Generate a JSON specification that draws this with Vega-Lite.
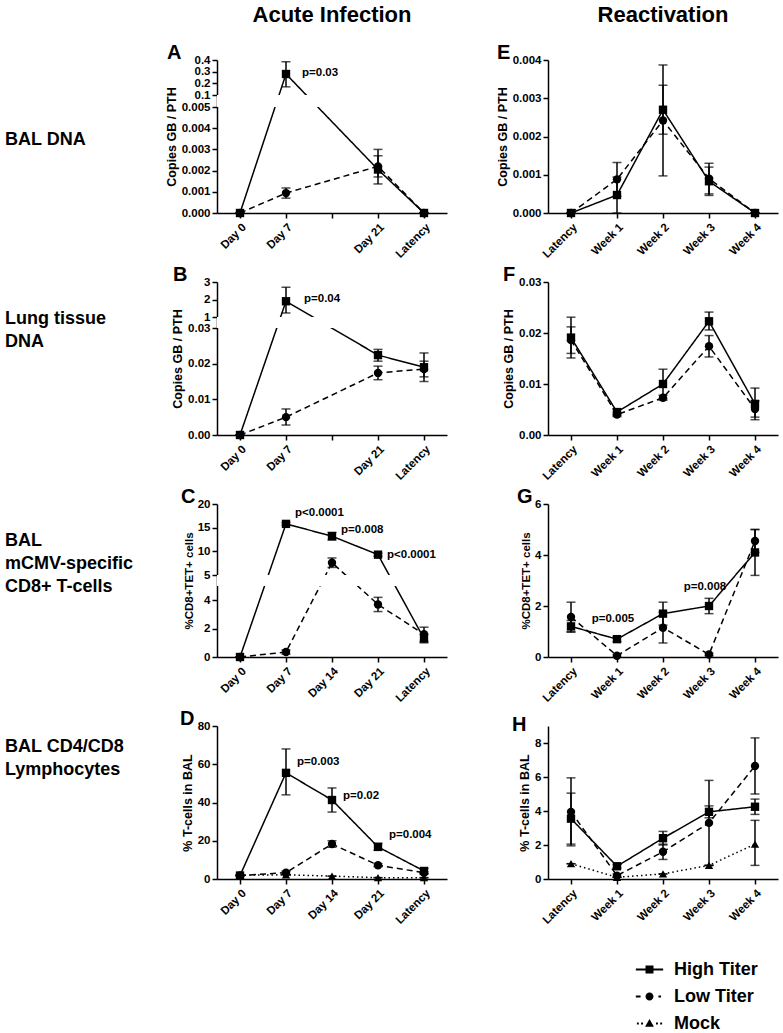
{
"$schema": "https://vega.github.io/schema/vega-lite/v6.json",
"background": "white",
"padding": {"left": 2, "top": 4, "right": 2, "bottom": 0},
"config": {
 "view": {"stroke": null},
 "font": "Liberation Sans",
 "title": {"font": "Liberation Sans", "fontWeight": "bold", "color": "black"},
 "axis": {"labelFont": "Liberation Sans", "labelFontWeight": "bold", "labelFontSize": 11.5, "labelColor": "black", "titleFont": "Liberation Sans", "titleFontWeight": "bold", "titleFontSize": 12.5, "titleColor": "black", "domainColor": "black", "domainWidth": 1.5, "tickColor": "black", "tickWidth": 1.5, "tickSize": 5, "grid": false, "labelPadding": 2, "titlePadding": 3, "labelOverlap": false},
 "axisX": {"labelAngle": -45, "labelPadding": 3}
},
"datasets": {
 "obs": [
  {"panel":"A","group":"High Titer","time":"Day 0","value":0,"lo":0,"hi":0},
  {"panel":"A","group":"High Titer","time":"Day 7","value":0.28,"lo":0.17,"hi":0.385},
  {"panel":"A","group":"High Titer","time":"Day 21","value":0.00205,"lo":0.00137,"hi":0.003},
  {"panel":"A","group":"High Titer","time":"Latency","value":0,"lo":0,"hi":0},
  {"panel":"A","group":"Low Titer","time":"Day 0","value":0,"lo":0,"hi":0},
  {"panel":"A","group":"Low Titer","time":"Day 7","value":0.00094,"lo":0.0007,"hi":0.00118},
  {"panel":"A","group":"Low Titer","time":"Day 21","value":0.0022,"lo":0.0017,"hi":0.0027},
  {"panel":"A","group":"Low Titer","time":"Latency","value":0,"lo":0,"hi":0},
  {"panel":"E","group":"High Titer","time":"Latency","value":0,"lo":0,"hi":0},
  {"panel":"E","group":"High Titer","time":"Week 1","value":0.00047,"lo":0,"hi":0.00094},
  {"panel":"E","group":"High Titer","time":"Week 2","value":0.0027,"lo":0.00206,"hi":0.00334},
  {"panel":"E","group":"High Titer","time":"Week 3","value":0.00083,"lo":0.00046,"hi":0.0012},
  {"panel":"E","group":"High Titer","time":"Week 4","value":0,"lo":0,"hi":0},
  {"panel":"E","group":"Low Titer","time":"Latency","value":0,"lo":0,"hi":0},
  {"panel":"E","group":"Low Titer","time":"Week 1","value":0.00088,"lo":0.00044,"hi":0.00132},
  {"panel":"E","group":"Low Titer","time":"Week 2","value":0.00242,"lo":0.00097,"hi":0.00387},
  {"panel":"E","group":"Low Titer","time":"Week 3","value":0.0009,"lo":0.0005,"hi":0.0013},
  {"panel":"E","group":"Low Titer","time":"Week 4","value":0,"lo":0,"hi":0},
  {"panel":"B","group":"High Titer","time":"Day 0","value":0,"lo":0,"hi":0},
  {"panel":"B","group":"High Titer","time":"Day 7","value":1.9,"lo":1.23,"hi":2.7},
  {"panel":"B","group":"High Titer","time":"Day 21","value":0.0224,"lo":0.0207,"hi":0.024},
  {"panel":"B","group":"High Titer","time":"Latency","value":0.019,"lo":0.015,"hi":0.023},
  {"panel":"B","group":"Low Titer","time":"Day 0","value":0,"lo":0,"hi":0},
  {"panel":"B","group":"Low Titer","time":"Day 7","value":0.005,"lo":0.0028,"hi":0.0073},
  {"panel":"B","group":"Low Titer","time":"Day 21","value":0.0174,"lo":0.0155,"hi":0.0193},
  {"panel":"B","group":"Low Titer","time":"Latency","value":0.0185,"lo":0.0163,"hi":0.0207},
  {"panel":"F","group":"High Titer","time":"Latency","value":0.0191,"lo":0.0151,"hi":0.0231},
  {"panel":"F","group":"High Titer","time":"Week 1","value":0.0045,"lo":0.0039,"hi":0.0051},
  {"panel":"F","group":"High Titer","time":"Week 2","value":0.01,"lo":0.0071,"hi":0.0129},
  {"panel":"F","group":"High Titer","time":"Week 3","value":0.0223,"lo":0.0206,"hi":0.0241},
  {"panel":"F","group":"High Titer","time":"Week 4","value":0.0061,"lo":0.003,"hi":0.0092},
  {"panel":"F","group":"Low Titer","time":"Latency","value":0.0186,"lo":0.016,"hi":0.0212},
  {"panel":"F","group":"Low Titer","time":"Week 1","value":0.004,"lo":0.0036,"hi":0.0044},
  {"panel":"F","group":"Low Titer","time":"Week 2","value":0.0073,"lo":0.0068,"hi":0.0078},
  {"panel":"F","group":"Low Titer","time":"Week 3","value":0.0174,"lo":0.0153,"hi":0.0195},
  {"panel":"F","group":"Low Titer","time":"Week 4","value":0.0051,"lo":0.0035,"hi":0.0067},
  {"panel":"C","group":"High Titer","time":"Day 0","value":0,"lo":0,"hi":0},
  {"panel":"C","group":"High Titer","time":"Day 7","value":15.8,"lo":15.5,"hi":16.1},
  {"panel":"C","group":"High Titer","time":"Day 14","value":13.2,"lo":12.4,"hi":14.0},
  {"panel":"C","group":"High Titer","time":"Day 21","value":9.3,"lo":9.0,"hi":9.6},
  {"panel":"C","group":"High Titer","time":"Latency","value":1.3,"lo":1.0,"hi":1.6},
  {"panel":"C","group":"Low Titer","time":"Day 0","value":0,"lo":0,"hi":0},
  {"panel":"C","group":"Low Titer","time":"Day 7","value":0.35,"lo":0.2,"hi":0.5},
  {"panel":"C","group":"Low Titer","time":"Day 14","value":7.6,"lo":6.6,"hi":8.6},
  {"panel":"C","group":"Low Titer","time":"Day 21","value":3.7,"lo":3.2,"hi":4.2},
  {"panel":"C","group":"Low Titer","time":"Latency","value":1.6,"lo":1.1,"hi":2.1},
  {"panel":"G","group":"High Titer","time":"Latency","value":1.2,"lo":0.97,"hi":1.43},
  {"panel":"G","group":"High Titer","time":"Week 1","value":0.7,"lo":0.6,"hi":0.8},
  {"panel":"G","group":"High Titer","time":"Week 2","value":1.7,"lo":1.25,"hi":2.15},
  {"panel":"G","group":"High Titer","time":"Week 3","value":2.0,"lo":1.7,"hi":2.3},
  {"panel":"G","group":"High Titer","time":"Week 4","value":4.1,"lo":3.2,"hi":5.0},
  {"panel":"G","group":"Low Titer","time":"Latency","value":1.57,"lo":1.0,"hi":2.15},
  {"panel":"G","group":"Low Titer","time":"Week 1","value":0.05,"lo":0,"hi":0.1},
  {"panel":"G","group":"Low Titer","time":"Week 2","value":1.15,"lo":0.55,"hi":1.75},
  {"panel":"G","group":"Low Titer","time":"Week 3","value":0.1,"lo":0.05,"hi":0.15},
  {"panel":"G","group":"Low Titer","time":"Week 4","value":4.55,"lo":4.1,"hi":5.0},
  {"panel":"D","group":"High Titer","time":"Day 0","value":1.8,"lo":1.5,"hi":2.1},
  {"panel":"D","group":"High Titer","time":"Day 7","value":55.5,"lo":44,"hi":68},
  {"panel":"D","group":"High Titer","time":"Day 14","value":41.3,"lo":35,"hi":47.6},
  {"panel":"D","group":"High Titer","time":"Day 21","value":16.8,"lo":15,"hi":18.6},
  {"panel":"D","group":"High Titer","time":"Latency","value":4.2,"lo":2.8,"hi":5.6},
  {"panel":"D","group":"Low Titer","time":"Day 0","value":1.8,"lo":1.6,"hi":2.0},
  {"panel":"D","group":"Low Titer","time":"Day 7","value":3.3,"lo":2.5,"hi":4.1},
  {"panel":"D","group":"Low Titer","time":"Day 14","value":18.3,"lo":16.6,"hi":20},
  {"panel":"D","group":"Low Titer","time":"Day 21","value":7.2,"lo":6.4,"hi":8.0},
  {"panel":"D","group":"Low Titer","time":"Latency","value":3.3,"lo":2.8,"hi":3.8},
  {"panel":"D","group":"Mock","time":"Day 0","value":2.0,"lo":2.0,"hi":2.0},
  {"panel":"D","group":"Mock","time":"Day 7","value":2.2,"lo":2.2,"hi":2.2},
  {"panel":"D","group":"Mock","time":"Day 14","value":1.5,"lo":1.5,"hi":1.5},
  {"panel":"D","group":"Mock","time":"Day 21","value":0.7,"lo":0.7,"hi":0.7},
  {"panel":"D","group":"Mock","time":"Latency","value":0.7,"lo":0.7,"hi":0.7},
  {"panel":"H","group":"High Titer","time":"Latency","value":3.55,"lo":2.05,"hi":5.05},
  {"panel":"H","group":"High Titer","time":"Week 1","value":0.75,"lo":0.65,"hi":0.85},
  {"panel":"H","group":"High Titer","time":"Week 2","value":2.4,"lo":2.0,"hi":2.8},
  {"panel":"H","group":"High Titer","time":"Week 3","value":3.95,"lo":3.6,"hi":4.3},
  {"panel":"H","group":"High Titer","time":"Week 4","value":4.25,"lo":3.8,"hi":4.7},
  {"panel":"H","group":"Low Titer","time":"Latency","value":3.95,"lo":1.95,"hi":5.95},
  {"panel":"H","group":"Low Titer","time":"Week 1","value":0.2,"lo":0.1,"hi":0.3},
  {"panel":"H","group":"Low Titer","time":"Week 2","value":1.6,"lo":1.15,"hi":2.05},
  {"panel":"H","group":"Low Titer","time":"Week 3","value":3.3,"lo":0.8,"hi":5.8},
  {"panel":"H","group":"Low Titer","time":"Week 4","value":6.65,"lo":5.0,"hi":8.3},
  {"panel":"H","group":"Mock","time":"Latency","value":0.9,"lo":0.9,"hi":0.9},
  {"panel":"H","group":"Mock","time":"Week 1","value":0.1,"lo":0.1,"hi":0.1},
  {"panel":"H","group":"Mock","time":"Week 2","value":0.3,"lo":0.3,"hi":0.3},
  {"panel":"H","group":"Mock","time":"Week 3","value":0.8,"lo":0.8,"hi":0.8},
  {"panel":"H","group":"Mock","time":"Week 4","value":2.05,"lo":0.8,"hi":3.45}
 ],
 "notes": [
  {"panel":"A","time":"Day 7","value":0.29,"text":"p=0.03"},
  {"panel":"B","time":"Day 7","value":2.03,"text":"p=0.04"},
  {"panel":"C","time":"Day 7","value":18.1,"text":"p<0.0001"},
  {"panel":"C","time":"Day 14","value":14.5,"text":"p=0.008"},
  {"panel":"C","time":"Day 21","value":9.2,"text":"p<0.0001"},
  {"panel":"D","time":"Day 7","value":61.2,"text":"p=0.003"},
  {"panel":"D","time":"Day 14","value":43.4,"text":"p=0.02"},
  {"panel":"D","time":"Day 21","value":23,"text":"p=0.004"},
  {"panel":"G","time":"Week 1","value":1.49,"text":"p=0.005"},
  {"panel":"G","time":"Week 3","value":2.75,"text":"p=0.008"}
 ],
 "groups": [{"group":"High Titer"},{"group":"Low Titer"},{"group":"Mock"}]
},
"spacing": 31,
"hconcat": [
 {"spacing": 0, "vconcat": [
  {"width": 1, "height": 104, "data": {"values": [{}]}, "mark": {"type": "point", "opacity": 0}},
  {"width": 1, "height": 161, "data": {"values": [{}]}, "mark": {"type": "point", "opacity": 0}, "title": {"text": "BAL DNA", "anchor": "start", "frame": "group", "fontSize": 18, "lineHeight": 23, "offset": 0, "align": "left"}},
  {"width": 1, "height": 181, "data": {"values": [{}]}, "mark": {"type": "point", "opacity": 0}, "title": {"text": ["Lung tissue", "DNA"], "anchor": "start", "frame": "group", "fontSize": 18, "lineHeight": 23, "offset": 0, "align": "left"}},
  {"width": 1, "height": 141, "data": {"values": [{}]}, "mark": {"type": "point", "opacity": 0}, "title": {"text": ["BAL", "mCMV-specific", "CD8+ T-cells"], "anchor": "start", "frame": "group", "fontSize": 18, "lineHeight": 23, "offset": 0, "align": "left"}},
  {"width": 1, "height": 5, "data": {"values": [{}]}, "mark": {"type": "point", "opacity": 0}, "title": {"text": ["BAL CD4/CD8", "Lymphocytes"], "anchor": "start", "frame": "group", "fontSize": 18, "lineHeight": 23, "offset": 0, "align": "left"}}
 ]},
 {"columns": 2, "align": "each", "spacing": {"row": 5, "column": 49},
  "resolve": {"scale": {"shape": "independent", "strokeDash": "independent"}, "legend": {"shape": "independent", "strokeDash": "independent"}},
  "concat": [
  {"width": 230, "height": 11, "data": {"values": [{}]}, "mark": {"type": "point", "opacity": 0}, "title": {"text": "Acute Infection", "anchor": "middle", "frame": "group", "font": "Liberation Sans", "fontSize": 22, "offset": 0}},
  {"width": 230, "height": 11, "data": {"values": [{}]}, "mark": {"type": "point", "opacity": 0}, "title": {"text": "Reactivation", "anchor": "middle", "frame": "group", "font": "Liberation Sans", "fontSize": 22, "offset": 0}},

  {"width": 230, "height": 153,
   "title": {"text": "A", "anchor": "start", "frame": "group", "dx": -50, "fontSize": 20, "offset": -9},
   "data": {"name": "obs"}, "transform": [{"filter": "datum.panel == 'A'"}],
   "layer": [
    {"mark": {"type": "errorbar", "ticks": true, "size": 9, "thickness": 1.5, "color": "black"},
     "encoding": {"x": {"field": "time", "type": "ordinal", "scale": {"type": "point", "domain": ["Day 0","Day 7","Day 14","Day 21","Latency"], "padding": 0.5}, "axis": {"title": null, "labelExpr": "datum.value == 'Day 14' ? '' : datum.value"}},
      "y": {"field": "lo", "type": "quantitative", "title": "Copies GB / PTH", "scale": {"domain": [0,0.005,0.1,0.4], "range": [153,47,35,0], "nice": false, "zero": false}},
      "y2": {"field": "hi"}}},
    {"mark": {"type": "line", "color": "black", "strokeWidth": 1.5},
     "encoding": {"x": {"field": "time", "type": "ordinal", "scale": {"type": "point", "domain": ["Day 0","Day 7","Day 14","Day 21","Latency"], "padding": 0.5}, "axis": {"title": null, "labelExpr": "datum.value == 'Day 14' ? '' : datum.value"}},
      "y": {"field": "value", "type": "quantitative", "title": "Copies GB / PTH", "scale": {"domain": [0,0.005,0.1,0.4], "range": [153,47,35,0], "nice": false, "zero": false}, "axis": {"values": [0,0.001,0.002,0.003,0.004,0.005,0.1,0.2,0.3,0.4], "tickCount": 20, "labelOverlap": false, "labelExpr": "datum.value < 0.05 ? format(datum.value, '.3f') : format(datum.value, '.1f')"}},
      "strokeDash": {"field": "group", "type": "nominal", "scale": {"domain": ["High Titer","Low Titer","Mock"], "range": [[1,0],[6,4],[1.5,3]]}, "legend": null},
      "order": {"value": null}}},
    {"data": {"values": [{"lo": 0.005, "hi": 0.1}]}, "mark": {"type": "rect", "color": "white"},
     "encoding": {"y": {"field": "lo", "type": "quantitative", "title": "Copies GB / PTH", "scale": {"domain": [0,0.005,0.1,0.4], "range": [153,47,35,0], "nice": false, "zero": false}}, "y2": {"field": "hi"}}},
    {"mark": {"type": "point", "filled": true, "size": 70, "color": "black", "opacity": 1},
     "encoding": {"x": {"field": "time", "type": "ordinal", "scale": {"type": "point", "domain": ["Day 0","Day 7","Day 14","Day 21","Latency"], "padding": 0.5}, "axis": {"title": null, "labelExpr": "datum.value == 'Day 14' ? '' : datum.value"}},
      "y": {"field": "value", "type": "quantitative", "title": "Copies GB / PTH", "scale": {"domain": [0,0.005,0.1,0.4], "range": [153,47,35,0], "nice": false, "zero": false}},
      "shape": {"field": "group", "type": "nominal", "scale": {"domain": ["High Titer","Low Titer","Mock"], "range": ["square","circle","triangle-up"]}, "legend": null}}},
    {"data": {"name": "notes"}, "transform": [{"filter": "datum.panel == 'A'"}],
     "mark": {"type": "text", "align": "left", "baseline": "middle", "dx": 16, "fontSize": 11.5, "fontWeight": "bold", "color": "black"},
     "encoding": {"x": {"field": "time", "type": "ordinal", "scale": {"type": "point", "domain": ["Day 0","Day 7","Day 14","Day 21","Latency"], "padding": 0.5}, "axis": {"title": null, "labelExpr": "datum.value == 'Day 14' ? '' : datum.value"}},
      "y": {"field": "value", "type": "quantitative", "title": "Copies GB / PTH", "scale": {"domain": [0,0.005,0.1,0.4], "range": [153,47,35,0], "nice": false, "zero": false}},
      "text": {"field": "text"}}}
   ]},

  {"width": 230, "height": 153,
   "title": {"text": "E", "anchor": "start", "frame": "group", "dx": -51, "fontSize": 20, "offset": -9},
   "data": {"name": "obs"}, "transform": [{"filter": "datum.panel == 'E'"}],
   "layer": [
    {"mark": {"type": "errorbar", "ticks": true, "size": 9, "thickness": 1.5, "color": "black"},
     "encoding": {"x": {"field": "time", "type": "ordinal", "scale": {"type": "point", "domain": ["Latency","Week 1","Week 2","Week 3","Week 4"], "padding": 0.5}, "axis": {"title": null}},
      "y": {"field": "lo", "type": "quantitative", "title": "Copies GB / PTH", "scale": {"domain": [0,0.004], "nice": false}},
      "y2": {"field": "hi"}}},
    {"mark": {"type": "line", "color": "black", "strokeWidth": 1.5},
     "encoding": {"x": {"field": "time", "type": "ordinal", "scale": {"type": "point", "domain": ["Latency","Week 1","Week 2","Week 3","Week 4"], "padding": 0.5}, "axis": {"title": null}},
      "y": {"field": "value", "type": "quantitative", "title": "Copies GB / PTH", "scale": {"domain": [0,0.004], "nice": false}, "axis": {"values": [0,0.001,0.002,0.003,0.004], "tickCount": 20, "format": ".3f"}},
      "strokeDash": {"field": "group", "type": "nominal", "scale": {"domain": ["High Titer","Low Titer","Mock"], "range": [[1,0],[6,4],[1.5,3]]}, "legend": null},
      "order": {"value": null}}},
    {"mark": {"type": "point", "filled": true, "size": 70, "color": "black", "opacity": 1},
     "encoding": {"x": {"field": "time", "type": "ordinal", "scale": {"type": "point", "domain": ["Latency","Week 1","Week 2","Week 3","Week 4"], "padding": 0.5}, "axis": {"title": null}},
      "y": {"field": "value", "type": "quantitative", "title": "Copies GB / PTH", "scale": {"domain": [0,0.004], "nice": false}},
      "shape": {"field": "group", "type": "nominal", "scale": {"domain": ["High Titer","Low Titer","Mock"], "range": ["square","circle","triangle-up"]}, "legend": null}}}
   ]},

  {"width": 230, "height": 153,
   "title": {"text": "B", "anchor": "start", "frame": "group", "dx": -44, "fontSize": 20, "offset": -9},
   "data": {"name": "obs"}, "transform": [{"filter": "datum.panel == 'B'"}],
   "layer": [
    {"mark": {"type": "errorbar", "ticks": true, "size": 9, "thickness": 1.5, "color": "black"},
     "encoding": {"x": {"field": "time", "type": "ordinal", "scale": {"type": "point", "domain": ["Day 0","Day 7","Day 14","Day 21","Latency"], "padding": 0.5}, "axis": {"title": null, "labelExpr": "datum.value == 'Day 14' ? '' : datum.value"}},
      "y": {"field": "lo", "type": "quantitative", "title": "Copies GB / PTH", "scale": {"domain": [0,0.03,1,3], "range": [153,46,35,0], "nice": false, "zero": false}},
      "y2": {"field": "hi"}}},
    {"mark": {"type": "line", "color": "black", "strokeWidth": 1.5},
     "encoding": {"x": {"field": "time", "type": "ordinal", "scale": {"type": "point", "domain": ["Day 0","Day 7","Day 14","Day 21","Latency"], "padding": 0.5}, "axis": {"title": null, "labelExpr": "datum.value == 'Day 14' ? '' : datum.value"}},
      "y": {"field": "value", "type": "quantitative", "title": "Copies GB / PTH", "scale": {"domain": [0,0.03,1,3], "range": [153,46,35,0], "nice": false, "zero": false}, "axis": {"values": [0,0.01,0.02,0.03,1,2,3], "tickCount": 20, "labelOverlap": false, "labelExpr": "datum.value < 0.5 ? format(datum.value, '.2f') : format(datum.value, 'd')"}},
      "strokeDash": {"field": "group", "type": "nominal", "scale": {"domain": ["High Titer","Low Titer","Mock"], "range": [[1,0],[6,4],[1.5,3]]}, "legend": null},
      "order": {"value": null}}},
    {"data": {"values": [{"lo": 0.03, "hi": 1}]}, "mark": {"type": "rect", "color": "white"},
     "encoding": {"y": {"field": "lo", "type": "quantitative", "title": "Copies GB / PTH", "scale": {"domain": [0,0.03,1,3], "range": [153,46,35,0], "nice": false, "zero": false}}, "y2": {"field": "hi"}}},
    {"mark": {"type": "point", "filled": true, "size": 70, "color": "black", "opacity": 1},
     "encoding": {"x": {"field": "time", "type": "ordinal", "scale": {"type": "point", "domain": ["Day 0","Day 7","Day 14","Day 21","Latency"], "padding": 0.5}, "axis": {"title": null, "labelExpr": "datum.value == 'Day 14' ? '' : datum.value"}},
      "y": {"field": "value", "type": "quantitative", "title": "Copies GB / PTH", "scale": {"domain": [0,0.03,1,3], "range": [153,46,35,0], "nice": false, "zero": false}},
      "shape": {"field": "group", "type": "nominal", "scale": {"domain": ["High Titer","Low Titer","Mock"], "range": ["square","circle","triangle-up"]}, "legend": null}}},
    {"data": {"name": "notes"}, "transform": [{"filter": "datum.panel == 'B'"}],
     "mark": {"type": "text", "align": "left", "baseline": "middle", "dx": 18, "fontSize": 11.5, "fontWeight": "bold", "color": "black"},
     "encoding": {"x": {"field": "time", "type": "ordinal", "scale": {"type": "point", "domain": ["Day 0","Day 7","Day 14","Day 21","Latency"], "padding": 0.5}, "axis": {"title": null, "labelExpr": "datum.value == 'Day 14' ? '' : datum.value"}},
      "y": {"field": "value", "type": "quantitative", "title": "Copies GB / PTH", "scale": {"domain": [0,0.03,1,3], "range": [153,46,35,0], "nice": false, "zero": false}},
      "text": {"field": "text"}}}
   ]},

  {"width": 230, "height": 153,
   "title": {"text": "F", "anchor": "start", "frame": "group", "dx": -45, "fontSize": 20, "offset": -9},
   "data": {"name": "obs"}, "transform": [{"filter": "datum.panel == 'F'"}],
   "layer": [
    {"mark": {"type": "errorbar", "ticks": true, "size": 9, "thickness": 1.5, "color": "black"},
     "encoding": {"x": {"field": "time", "type": "ordinal", "scale": {"type": "point", "domain": ["Latency","Week 1","Week 2","Week 3","Week 4"], "padding": 0.5}, "axis": {"title": null}},
      "y": {"field": "lo", "type": "quantitative", "title": "Copies GB / PTH", "scale": {"domain": [0,0.03], "nice": false}},
      "y2": {"field": "hi"}}},
    {"mark": {"type": "line", "color": "black", "strokeWidth": 1.5},
     "encoding": {"x": {"field": "time", "type": "ordinal", "scale": {"type": "point", "domain": ["Latency","Week 1","Week 2","Week 3","Week 4"], "padding": 0.5}, "axis": {"title": null}},
      "y": {"field": "value", "type": "quantitative", "title": "Copies GB / PTH", "scale": {"domain": [0,0.03], "nice": false}, "axis": {"values": [0,0.01,0.02,0.03], "tickCount": 20, "format": ".2f"}},
      "strokeDash": {"field": "group", "type": "nominal", "scale": {"domain": ["High Titer","Low Titer","Mock"], "range": [[1,0],[6,4],[1.5,3]]}, "legend": null},
      "order": {"value": null}}},
    {"mark": {"type": "point", "filled": true, "size": 70, "color": "black", "opacity": 1},
     "encoding": {"x": {"field": "time", "type": "ordinal", "scale": {"type": "point", "domain": ["Latency","Week 1","Week 2","Week 3","Week 4"], "padding": 0.5}, "axis": {"title": null}},
      "y": {"field": "value", "type": "quantitative", "title": "Copies GB / PTH", "scale": {"domain": [0,0.03], "nice": false}},
      "shape": {"field": "group", "type": "nominal", "scale": {"domain": ["High Titer","Low Titer","Mock"], "range": ["square","circle","triangle-up"]}, "legend": null}}}
   ]},

  {"width": 230, "height": 153,
   "title": {"text": "C", "anchor": "start", "frame": "group", "dx": -36, "fontSize": 20, "offset": -9},
   "data": {"name": "obs"}, "transform": [{"filter": "datum.panel == 'C'"}],
   "layer": [
    {"mark": {"type": "errorbar", "ticks": true, "size": 9, "thickness": 1.5, "color": "black"},
     "encoding": {"x": {"field": "time", "type": "ordinal", "scale": {"type": "point", "domain": ["Day 0","Day 7","Day 14","Day 21","Latency"], "padding": 0.5}, "axis": {"title": null}},
      "y": {"field": "lo", "type": "quantitative", "title": "%CD8+TET+ cells", "scale": {"domain": [0,5,5.0001,20], "range": [153,82,71,0], "nice": false, "zero": false}},
      "y2": {"field": "hi"}}},
    {"mark": {"type": "line", "color": "black", "strokeWidth": 1.5},
     "encoding": {"x": {"field": "time", "type": "ordinal", "scale": {"type": "point", "domain": ["Day 0","Day 7","Day 14","Day 21","Latency"], "padding": 0.5}, "axis": {"title": null}},
      "y": {"field": "value", "type": "quantitative", "title": "%CD8+TET+ cells", "scale": {"domain": [0,5,5.0001,20], "range": [153,82,71,0], "nice": false, "zero": false}, "axis": {"values": [0,2,4,5.0001,10,15,20], "tickCount": 20, "labelOverlap": false, "titleFontSize": 11.5, "labelExpr": "format(datum.value, 'd')"}},
      "strokeDash": {"field": "group", "type": "nominal", "scale": {"domain": ["High Titer","Low Titer","Mock"], "range": [[1,0],[6,4],[1.5,3]]}, "legend": null},
      "order": {"value": null}}},
    {"data": {"values": [{"lo": 5, "hi": 5.0001}]}, "mark": {"type": "rect", "color": "white"},
     "encoding": {"y": {"field": "lo", "type": "quantitative", "title": "%CD8+TET+ cells", "scale": {"domain": [0,5,5.0001,20], "range": [153,82,71,0], "nice": false, "zero": false}}, "y2": {"field": "hi"}}},
    {"mark": {"type": "point", "filled": true, "size": 70, "color": "black", "opacity": 1},
     "encoding": {"x": {"field": "time", "type": "ordinal", "scale": {"type": "point", "domain": ["Day 0","Day 7","Day 14","Day 21","Latency"], "padding": 0.5}, "axis": {"title": null}},
      "y": {"field": "value", "type": "quantitative", "title": "%CD8+TET+ cells", "scale": {"domain": [0,5,5.0001,20], "range": [153,82,71,0], "nice": false, "zero": false}},
      "shape": {"field": "group", "type": "nominal", "scale": {"domain": ["High Titer","Low Titer","Mock"], "range": ["square","circle","triangle-up"]}, "legend": null}}},
    {"data": {"name": "notes"}, "transform": [{"filter": "datum.panel == 'C'"}],
     "mark": {"type": "text", "align": "left", "baseline": "middle", "dx": 9, "fontSize": 11.5, "fontWeight": "bold", "color": "black"},
     "encoding": {"x": {"field": "time", "type": "ordinal", "scale": {"type": "point", "domain": ["Day 0","Day 7","Day 14","Day 21","Latency"], "padding": 0.5}, "axis": {"title": null}},
      "y": {"field": "value", "type": "quantitative", "title": "%CD8+TET+ cells", "scale": {"domain": [0,5,5.0001,20], "range": [153,82,71,0], "nice": false, "zero": false}},
      "text": {"field": "text"}}}
   ]},

  {"width": 230, "height": 153,
   "title": {"text": "G", "anchor": "start", "frame": "group", "dx": -31, "fontSize": 20, "offset": -9},
   "data": {"name": "obs"}, "transform": [{"filter": "datum.panel == 'G'"}],
   "layer": [
    {"mark": {"type": "errorbar", "ticks": true, "size": 9, "thickness": 1.5, "color": "black"},
     "encoding": {"x": {"field": "time", "type": "ordinal", "scale": {"type": "point", "domain": ["Latency","Week 1","Week 2","Week 3","Week 4"], "padding": 0.5}, "axis": {"title": null}},
      "y": {"field": "lo", "type": "quantitative", "title": "%CD8+TET+ cells", "scale": {"domain": [0,6], "nice": false}},
      "y2": {"field": "hi"}}},
    {"mark": {"type": "line", "color": "black", "strokeWidth": 1.5},
     "encoding": {"x": {"field": "time", "type": "ordinal", "scale": {"type": "point", "domain": ["Latency","Week 1","Week 2","Week 3","Week 4"], "padding": 0.5}, "axis": {"title": null}},
      "y": {"field": "value", "type": "quantitative", "title": "%CD8+TET+ cells", "scale": {"domain": [0,6], "nice": false}, "axis": {"values": [0,2,4,6], "tickCount": 20, "format": "d", "titleFontSize": 11.5}},
      "strokeDash": {"field": "group", "type": "nominal", "scale": {"domain": ["High Titer","Low Titer","Mock"], "range": [[1,0],[6,4],[1.5,3]]}, "legend": null},
      "order": {"value": null}}},
    {"mark": {"type": "point", "filled": true, "size": 70, "color": "black", "opacity": 1},
     "encoding": {"x": {"field": "time", "type": "ordinal", "scale": {"type": "point", "domain": ["Latency","Week 1","Week 2","Week 3","Week 4"], "padding": 0.5}, "axis": {"title": null}},
      "y": {"field": "value", "type": "quantitative", "title": "%CD8+TET+ cells", "scale": {"domain": [0,6], "nice": false}},
      "shape": {"field": "group", "type": "nominal", "scale": {"domain": ["High Titer","Low Titer","Mock"], "range": ["square","circle","triangle-up"]}, "legend": null}}},
    {"data": {"name": "notes"}, "transform": [{"filter": "datum.panel == 'G'"}],
     "mark": {"type": "text", "align": "center", "baseline": "middle", "dx": -4, "fontSize": 11.5, "fontWeight": "bold", "color": "black"},
     "encoding": {"x": {"field": "time", "type": "ordinal", "scale": {"type": "point", "domain": ["Latency","Week 1","Week 2","Week 3","Week 4"], "padding": 0.5}, "axis": {"title": null}},
      "y": {"field": "value", "type": "quantitative", "title": "%CD8+TET+ cells", "scale": {"domain": [0,6], "nice": false}},
      "text": {"field": "text"}}}
   ]},

  {"width": 230, "height": 153,
   "title": {"text": "D", "anchor": "start", "frame": "group", "dx": -37, "fontSize": 20, "offset": -9},
   "data": {"name": "obs"}, "transform": [{"filter": "datum.panel == 'D'"}],
   "layer": [
    {"mark": {"type": "errorbar", "ticks": true, "size": 9, "thickness": 1.5, "color": "black"},
     "encoding": {"x": {"field": "time", "type": "ordinal", "scale": {"type": "point", "domain": ["Day 0","Day 7","Day 14","Day 21","Latency"], "padding": 0.5}, "axis": {"title": null}},
      "y": {"field": "lo", "type": "quantitative", "title": "% T-cells in  BAL", "scale": {"domain": [0,80], "nice": false}},
      "y2": {"field": "hi"}}},
    {"mark": {"type": "line", "color": "black", "strokeWidth": 1.5},
     "encoding": {"x": {"field": "time", "type": "ordinal", "scale": {"type": "point", "domain": ["Day 0","Day 7","Day 14","Day 21","Latency"], "padding": 0.5}, "axis": {"title": null}},
      "y": {"field": "value", "type": "quantitative", "title": "% T-cells in  BAL", "scale": {"domain": [0,80], "nice": false}, "axis": {"values": [0,20,40,60,80], "tickCount": 20, "format": "d"}},
      "strokeDash": {"field": "group", "type": "nominal", "scale": {"domain": ["High Titer","Low Titer","Mock"], "range": [[1,0],[6,4],[1.5,3]]}, "legend": null},
      "order": {"value": null}}},
    {"mark": {"type": "point", "filled": true, "size": 70, "color": "black", "opacity": 1},
     "encoding": {"x": {"field": "time", "type": "ordinal", "scale": {"type": "point", "domain": ["Day 0","Day 7","Day 14","Day 21","Latency"], "padding": 0.5}, "axis": {"title": null}},
      "y": {"field": "value", "type": "quantitative", "title": "% T-cells in  BAL", "scale": {"domain": [0,80], "nice": false}},
      "shape": {"field": "group", "type": "nominal", "scale": {"domain": ["High Titer","Low Titer","Mock"], "range": ["square","circle","triangle-up"]}, "legend": null}}},
    {"data": {"name": "notes"}, "transform": [{"filter": "datum.panel == 'D'"}],
     "mark": {"type": "text", "align": "left", "baseline": "middle", "dx": 11, "fontSize": 11.5, "fontWeight": "bold", "color": "black"},
     "encoding": {"x": {"field": "time", "type": "ordinal", "scale": {"type": "point", "domain": ["Day 0","Day 7","Day 14","Day 21","Latency"], "padding": 0.5}, "axis": {"title": null}},
      "y": {"field": "value", "type": "quantitative", "title": "% T-cells in  BAL", "scale": {"domain": [0,80], "nice": false}},
      "text": {"field": "text"}}}
   ]},

  {"width": 230, "height": 153,
   "title": {"text": "H", "anchor": "start", "frame": "group", "dx": -36, "fontSize": 20, "offset": -9},
   "data": {"name": "obs"}, "transform": [{"filter": "datum.panel == 'H'"}],
   "layer": [
    {"mark": {"type": "errorbar", "ticks": true, "size": 9, "thickness": 1.5, "color": "black"},
     "encoding": {"x": {"field": "time", "type": "ordinal", "scale": {"type": "point", "domain": ["Latency","Week 1","Week 2","Week 3","Week 4"], "padding": 0.5}, "axis": {"title": null}},
      "y": {"field": "lo", "type": "quantitative", "title": "% T-cells in  BAL", "scale": {"domain": [0,9], "nice": false}},
      "y2": {"field": "hi"}}},
    {"mark": {"type": "line", "color": "black", "strokeWidth": 1.5},
     "encoding": {"x": {"field": "time", "type": "ordinal", "scale": {"type": "point", "domain": ["Latency","Week 1","Week 2","Week 3","Week 4"], "padding": 0.5}, "axis": {"title": null}},
      "y": {"field": "value", "type": "quantitative", "title": "% T-cells in  BAL", "scale": {"domain": [0,9], "nice": false}, "axis": {"values": [0,2,4,6,8], "tickCount": 20, "format": "d"}},
      "strokeDash": {"field": "group", "type": "nominal", "scale": {"domain": ["High Titer","Low Titer","Mock"], "range": [[1,0],[6,4],[1.5,3]]}, "legend": null},
      "order": {"value": null}}},
    {"mark": {"type": "point", "filled": true, "size": 70, "color": "black", "opacity": 1},
     "encoding": {"x": {"field": "time", "type": "ordinal", "scale": {"type": "point", "domain": ["Latency","Week 1","Week 2","Week 3","Week 4"], "padding": 0.5}, "axis": {"title": null}},
      "y": {"field": "value", "type": "quantitative", "title": "% T-cells in  BAL", "scale": {"domain": [0,9], "nice": false}},
      "shape": {"field": "group", "type": "nominal", "scale": {"domain": ["High Titer","Low Titer","Mock"], "range": ["square","circle","triangle-up"]}, "legend": null}}}
   ]},

  {"width": 230, "height": 1, "data": {"values": [{}]}, "mark": {"type": "point", "opacity": 0}},
  {"width": 230, "height": 1, "data": {"name": "groups"}, "mark": {"type": "point", "filled": true, "color": "black", "opacity": 0},
   "encoding": {"shape": {"field": "group", "type": "nominal",
     "scale": {"domain": ["High Titer","Low Titer","Mock"], "range": [
       "M-1.3,-0.09H1.3V0.09H-1.3ZM-0.38,-0.38H0.38V0.38H-0.38Z",
       "M-1.3,-0.09H-0.85V0.09H-1.3ZM0.85,-0.09H1.1V0.09H0.85ZM0.38,0A0.38,0.38,0,1,1,-0.38,0A0.38,0.38,0,1,1,0.38,0Z",
       "M-1.2,-0.09H-1.02V0.09H-1.2ZM-0.8,-0.09H-0.62V0.09H-0.8ZM0.62,-0.09H0.8V0.09H0.62ZM1.02,-0.09H1.2V0.09H1.02ZM0,-0.42L0.42,0.32L-0.42,0.32Z"]},
     "legend": {"orient": "none", "legendX": 90, "legendY": 24, "title": null, "padding": 0, "rowPadding": 6, "symbolSize": 441, "labelOffset": 13, "symbolFillColor": "black", "symbolOpacity": 1, "labelFont": "Liberation Sans", "labelFontWeight": "bold", "labelFontSize": 18, "labelColor": "black"}}}}
  ]}
]
}
